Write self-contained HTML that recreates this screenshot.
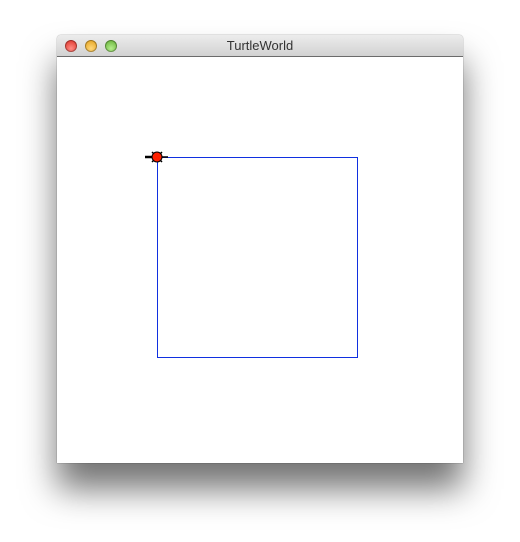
<!DOCTYPE html>
<html><head><meta charset="utf-8"><style>
body{margin:0;width:520px;height:542px;background:#fff;position:relative;overflow:hidden;font-family:"Liberation Sans",sans-serif}
#win{position:absolute;left:57px;top:35px;width:406px;height:428px;background:#fff;box-shadow:0 26px 34px rgba(0,0,0,0.55),0 0 1px rgba(0,0,0,0.6);border-radius:4px 4px 0 0}
#title{position:absolute;left:0;top:0;width:406px;height:21px;border-radius:4px 4px 0 0;background:linear-gradient(#ececec,#d2d2d2);border-bottom:1px solid #6b6b6b;text-align:center;font-size:13px;line-height:22px;color:#333}
.b{position:absolute;top:5px;width:12px;height:12px;border-radius:50%;box-shadow:inset 0 0 0 1px rgba(0,0,0,0.3)}
</style></head><body>
<div id="win">
<div id="title">
<div class="b" style="left:8px;background:radial-gradient(circle at 50% 70%,#ff8d85,#d9261c)"></div>
<div class="b" style="left:28px;background:radial-gradient(circle at 50% 70%,#ffd77a,#e09b10)"></div>
<div class="b" style="left:48px;background:radial-gradient(circle at 50% 70%,#b5ee8d,#5aa82a)"></div>
<span>TurtleWorld</span>
</div>
<svg width="406" height="406" style="position:absolute;left:0;top:22px">
<rect x="100.5" y="100.5" width="200" height="200" fill="none" stroke="#1030e0" stroke-width="1"/>
<g stroke="#000" stroke-width="1.5">
<line x1="88" y1="100" x2="100" y2="100" stroke-width="2.5"/>
<line x1="95" y1="95" x2="105" y2="105"/>
<line x1="95" y1="105" x2="105" y2="95"/>
<line x1="100" y1="100" x2="111" y2="100"/>
<circle cx="100" cy="100" r="5" fill="#ff2000" stroke-width="1"/>
</g>
</svg>
</div>
</body></html>
